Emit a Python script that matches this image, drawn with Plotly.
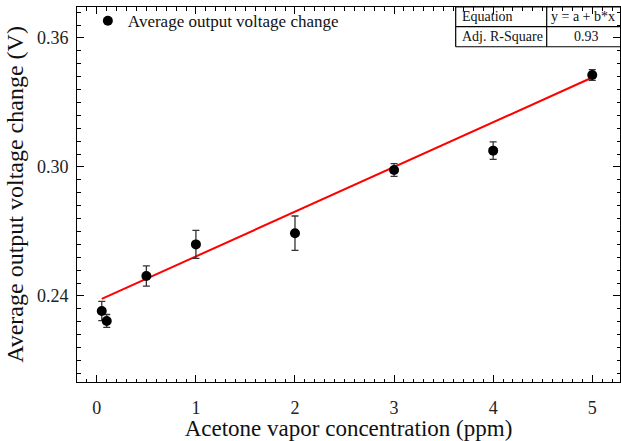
import plotly.graph_objects as go

# Data
conc_ppm = [0.05, 0.1, 0.5, 1, 2, 3, 4, 5]
avg_voltage = [0.2330, 0.2284, 0.2493, 0.2640, 0.2692, 0.2986, 0.3076, 0.3428]
err_voltage = [0.0045, 0.0030, 0.0047, 0.0065, 0.0080, 0.0030, 0.0041, 0.0025]

# Linear fit y = a + b*x
fit_a = 0.2376
fit_b = 0.0208
fit_x = [0.05, 5]
fit_y = [fit_a + fit_b * x for x in fit_x]

y_ticks = [0.24, 0.30, 0.36]
x_ticks = [0, 1, 2, 3, 4, 5]

table_rows = [["Equation", "y = a + b*x"], ["Adj. R-Square", "0.93"]]

FONT = "Liberation Serif"

fig = go.Figure()

fig.add_trace(go.Scatter(
    x=fit_x, y=fit_y, mode="lines",
    line=dict(color="#ff0000", width=2),
    showlegend=False, hoverinfo="skip",
))

fig.add_trace(go.Scatter(
    x=conc_ppm, y=avg_voltage, mode="markers",
    name="Average output voltage change",
    marker=dict(color="black", size=10),
    error_y=dict(type="data", array=err_voltage, visible=True,
                 color="#333333", thickness=1.3, width=3.5),
))

axis_common = dict(
    showgrid=False, zeroline=False, showline=True, linecolor="black",
    linewidth=1, mirror="allticks", ticks="inside", tickcolor="black",
    ticklen=7, tickwidth=1, automargin=False,
    tickfont=dict(family=FONT, size=18, color="#222"),
)

fig.update_xaxes(
    **axis_common,
    range=[-0.2, 5.28],
    tickmode="array", tickvals=x_ticks,
    ticklabelstandoff=9,
    minor=dict(dtick=0.1, tick0=0, ticks="inside", ticklen=3.5, tickcolor="black"),
    title=dict(text="Acetone vapor concentration (ppm)",
               font=dict(family=FONT, size=23, color="#111"), standoff=2),
)
fig.update_yaxes(
    **axis_common,
    range=[0.2, 0.3744],
    tickmode="array", tickvals=y_ticks,
    ticktext=[f"{v:.2f}" for v in y_ticks],
    ticklabelstandoff=4,
    minor=dict(dtick=0.006, tick0=0.24, ticks="inside", ticklen=3.5, tickcolor="black"),
    title=dict(text="Average output voltage change (V)",
               font=dict(family=FONT, size=24, color="#111"), standoff=6),
)

# Table in top right
x_left, x_mid, x_right = 0.6974, 0.865, 1.03
y_top, y_midl, y_bot = 1.0, 0.9475, 0.894
lines = [
    (x_left, y_top, x_right, y_top),
    (x_left, y_midl, x_right, y_midl),
    (x_left, y_bot, x_right, y_bot),
    (x_left, y_top, x_left, y_bot),
    (x_mid, y_top, x_mid, y_bot),
]
for (x0, y0, x1, y1) in lines:
    fig.add_shape(type="line", xref="paper", yref="paper",
                  x0=x0, y0=y0, x1=x1, y1=y1,
                  line=dict(color="black", width=1.2))

row_centers = [(y_top + y_midl) / 2, (y_midl + y_bot) / 2]
for (label, value), yc in zip(table_rows, row_centers):
    fig.add_annotation(xref="paper", yref="paper", x=x_left + 0.008, y=yc,
                       text=label, showarrow=False, xanchor="left", yanchor="middle",
                       font=dict(family=FONT, size=14, color="#111"))
    if value == "0.93":
        fig.add_annotation(xref="paper", yref="paper", x=(x_mid + 1.0) / 2 + 0.005, y=yc,
                           text=value, showarrow=False, xanchor="center", yanchor="middle",
                           font=dict(family=FONT, size=14, color="#111"))
    else:
        fig.add_annotation(xref="paper", yref="paper", x=x_mid + 0.005, y=yc,
                           text=value, showarrow=False, xanchor="left", yanchor="middle",
                           font=dict(family=FONT, size=14, color="#111"))

fig.update_layout(
    width=621, height=441,
    margin=dict(l=77, r=1, t=7, b=59, autoexpand=False),
    paper_bgcolor="white", plot_bgcolor="white",
    showlegend=True,
    legend=dict(x=0.02, y=1.01, xanchor="left", yanchor="top",
                bgcolor="rgba(0,0,0,0)", borderwidth=0,
                font=dict(family=FONT, size=17, color="#111")),
)

fig.write_html("out.html")
